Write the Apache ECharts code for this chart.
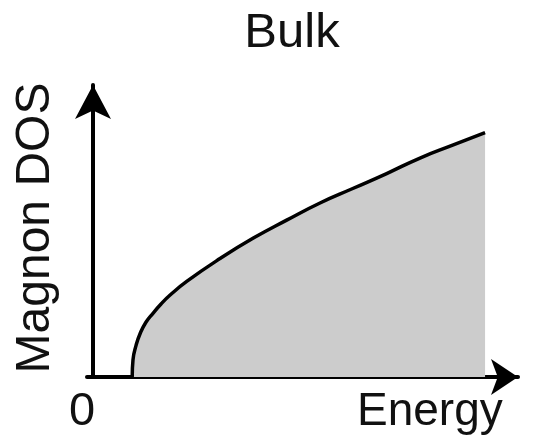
<!DOCTYPE html>
<html>
<head>
<meta charset="utf-8">
<style>
  html, body { margin: 0; padding: 0; background: #ffffff; }
  #chart { width: 535px; height: 448px; }
</style>
<script src="https://cdn.jsdelivr.net/npm/echarts@6/dist/echarts.min.js"></script>
</head>
<body>
<div id="chart"></div>
<script>
// Bulk magnon density of states: zero below the gap, then a square-root-like rise.
const energy = [1.0, 1.02, 1.1, 1.2, 1.35, 1.53, 1.73, 1.96, 2.39, 3.24, 4.09, 4.94, 5.79, 6.64, 7.49, 8.34, 9.19, 10.0];
const dos    = [0.0, 0.21, 0.39, 0.53, 0.67, 0.78, 0.89, 1.0, 1.17, 1.45, 1.7, 1.92, 2.13, 2.31, 2.49, 2.68, 2.84, 2.99];

const titleText = 'Bulk';
const xName = 'Energy';
const yName = 'Magnon DOS';
const originLabel = '0';

const FONT = '"Liberation Sans", Arial, Helvetica, sans-serif';
const INK = '#111111';

const chart = echarts.init(document.getElementById('chart'), null, { renderer: 'canvas' });

chart.setOption({
  backgroundColor: '#ffffff',
  animation: false,
  grid: { left: 87, right: 17, top: 85, bottom: 71, containLabel: false },
  xAxis: {
    type: 'value',
    min: -0.153,
    max: 10.84,
    axisLine: {
      show: true,
      onZero: true,
      symbol: ['none', 'arrow'],
      symbolSize: [27, 27],
      lineStyle: { color: '#000000', width: 4 }
    },
    axisTick: { show: false },
    axisLabel: { show: false },
    splitLine: { show: false }
  },
  yAxis: {
    type: 'value',
    min: 0,
    max: 3.574,
    axisLine: {
      show: true,
      onZero: true,
      symbol: ['none', 'arrow'],
      symbolSize: [27, 34],
      lineStyle: { color: '#000000', width: 4 }
    },
    axisTick: { show: false },
    axisLabel: { show: false },
    splitLine: { show: false }
  },
  series: [{
    type: 'line',
    data: energy.map((e, i) => [e, dos[i]]),
    smooth: 0.5,
    showSymbol: false,
    lineStyle: { color: '#000000', width: 3.5 },
    areaStyle: { color: '#cccccc', opacity: 1, origin: 'start' },
    z: 1
  }],
  graphic: [
    {
      type: 'text', x: 292, y: 33, z: 10,
      style: { text: titleText, font: '49px ' + FONT, fill: INK, textAlign: 'center', textVerticalAlign: 'middle' }
    },
    {
      type: 'text', x: 82, y: 412, z: 10,
      style: { text: originLabel, font: '47px ' + FONT, fill: INK, textAlign: 'center', textVerticalAlign: 'middle' }
    },
    {
      type: 'text', x: 357, y: 412, z: 10,
      style: { text: xName, font: '46px ' + FONT, fill: INK, textAlign: 'left', textVerticalAlign: 'middle' }
    },
    {
      type: 'text', x: 35.5, y: 228, rotation: Math.PI / 2, z: 10,
      style: { text: yName, font: '48px ' + FONT, fill: INK, textAlign: 'center', textVerticalAlign: 'middle' }
    }
  ]
});
</script>
</body>
</html>
